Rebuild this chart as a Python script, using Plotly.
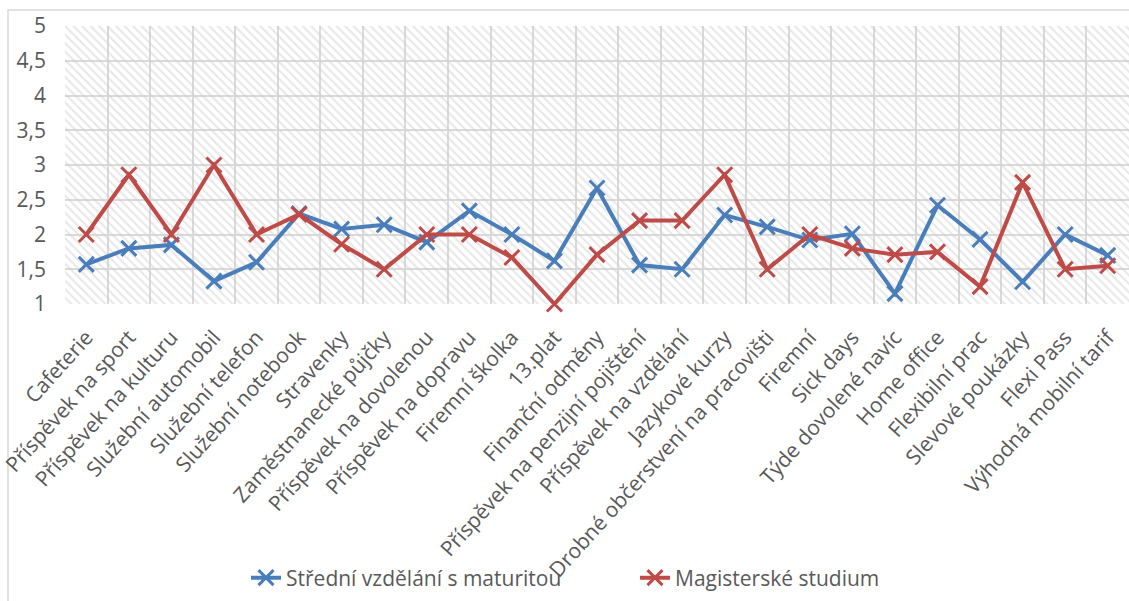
import plotly.graph_objects as go

# Benefit categories (x axis)
categories = [
    "Cafeterie", "Příspěvek na sport", "Příspěvek na kulturu", "Služební automobil",
    "Služební telefon", "Služební notebook", "Stravenky", "Zaměstnanecké půjčky",
    "Příspěvek na dovolenou", "Příspěvek na dopravu", "Firemní školka", "13.plat",
    "Finanční odměny", "Příspěvek na penzijní pojištění", "Příspěvek na vzdělání",
    "Jazykové kurzy", "Drobné občerstvení na pracovišti", "Firemní", "Sick days",
    "Týde dovolené navíc", "Home office", "Flexibilní prac", "Slevové poukázky",
    "Flexi Pass", "Výhodná mobilní tarif",
]

# Average rating per education level
stredni = [1.57, 1.8, 1.85, 1.33, 1.6, 2.3, 2.08, 2.14, 1.89, 2.34, 2.0, 1.62,
           2.67, 1.56, 1.5, 2.28, 2.11, 1.92, 2.01, 1.15, 2.42, 1.93, 1.32, 2.0, 1.7]
magisterske = [2.0, 2.86, 2.0, 3.0, 2.0, 2.29, 1.86, 1.5, 2.0, 2.0, 1.67, 1.0,
               1.71, 2.2, 2.2, 2.86, 1.5, 2.0, 1.8, 1.71, 1.75, 1.25, 2.75, 1.5, 1.55]

series_names = ["Střední vzdělání s maturitou", "Magisterské studium"]
y_min, y_max, y_step = 1, 5, 0.5

BLUE = "#4a7ebb"
RED = "#be4b48"
GRID = "#d9d9d9"
TEXT = "#595959"
FONT = "Open Sans"
FS = 20

W, H = 1129, 601
M_L, M_R, M_T, M_B = 65, 0, 26, 297

fig = go.Figure()

# Hatched plot-area background, one cell per category
fig.add_trace(go.Bar(
    x=categories,
    y=[y_max - y_min] * len(categories),
    base=[y_min] * len(categories),
    width=1,
    marker=dict(
        color="rgba(0,0,0,0)",
        line=dict(width=0),
        pattern=dict(shape="\\", fgcolor="#cfcfcf", bgcolor="rgba(0,0,0,0)",
                     size=6, solidity=0.35, fillmode="overlay"),
    ),
    hoverinfo="skip",
    showlegend=False,
))

for name, values, color in [(series_names[0], stredni, BLUE),
                             (series_names[1], magisterske, RED)]:
    fig.add_trace(go.Scatter(
        x=categories,
        y=values,
        name=name,
        mode="lines+markers",
        line=dict(color=color, width=4),
        marker=dict(symbol="x-thin", size=15, line=dict(color=color, width=3)),
        cliponaxis=False,
    ))

# Light outer chart border
pw = W - M_L - M_R
ph = H - M_T - M_B
fig.add_shape(
    type="rect", xref="paper", yref="paper",
    x0=(8 - M_L) / pw, x1=(W + 10 - M_L) / pw,
    y0=(M_T + ph - (H + 10)) / ph, y1=(M_T + ph - 10) / ph,
    line=dict(color=GRID, width=1.5), fillcolor="rgba(0,0,0,0)", layer="below",
)

fig.update_layout(
    width=W, height=H,
    margin=dict(l=M_L, r=M_R, t=M_T, b=M_B, autoexpand=False),
    paper_bgcolor="white",
    plot_bgcolor="white",
    separators=", ",
    bargap=0,
    font=dict(family=FONT, size=FS, color=TEXT),
    showlegend=True,
    legend=dict(
        orientation="h", x=(246 - M_L) / pw, xanchor="left",
        yref="container", y=1 - 578 / H, yanchor="middle",
        font=dict(family=FONT, size=FS + 1, color=TEXT),
        entrywidth=344, entrywidthmode="pixels",
        bgcolor="rgba(0,0,0,0)",
    ),
    xaxis=dict(
        type="category",
        range=[-0.5, len(categories) - 0.5],
        tickson="boundaries",
        showgrid=True, gridcolor=GRID, gridwidth=1.5,
        ticks="", tickangle=-48, ticklabelstandoff=16,
        tickfont=dict(family=FONT, size=FS + 1, color=TEXT),
        showline=False, zeroline=False, automargin=False,
    ),
    yaxis=dict(
        range=[y_min, y_max],
        dtick=y_step, tick0=y_min,
        showgrid=True, gridcolor=GRID, gridwidth=1.5,
        ticks="", ticklabelstandoff=18,
        tickfont=dict(family=FONT, size=FS + 1, color=TEXT),
        showline=False, zeroline=False, automargin=False,
    ),
)

fig.write_html("out.html")
